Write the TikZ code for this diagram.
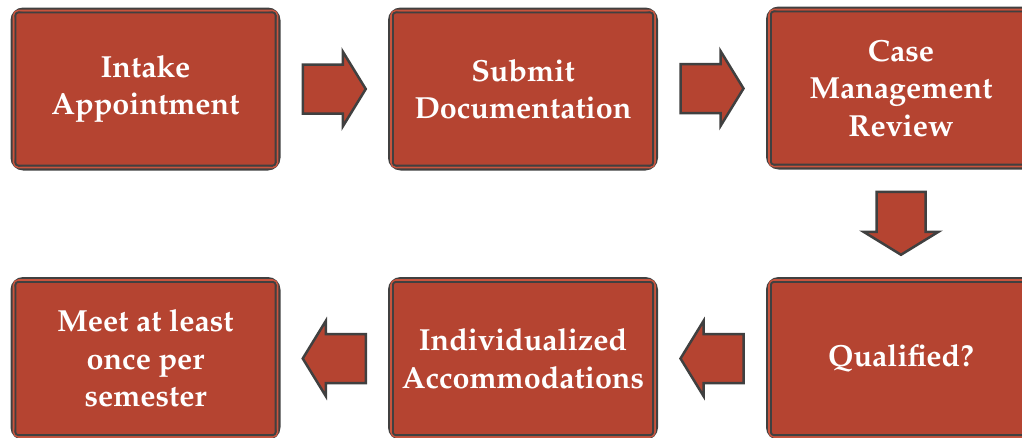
\documentclass[tikz,border=0pt]{standalone}
\usepackage[T1]{fontenc}
\usepackage{mathpazo}
\usetikzlibrary{calc}
\definecolor{brick}{RGB}{181,68,49}
\definecolor{edge}{RGB}{64,64,64}
\definecolor{gapred}{RGB}{200,84,62}
\tikzset{
  stepbox/.style={draw=edge, line width=3.4pt, fill=brick, rounded corners=11pt,
    minimum width=266.6pt, minimum height=159.6pt,
    inner sep=0pt, align=center, text=white,
    font=\fontsize{30.5}{37.5}\selectfont\bfseries},
  gapline/.style={draw=gapred, line width=1.6pt, rounded corners=5pt},
  innerline/.style={draw=edge, line width=1.8pt, rounded corners=3pt},
  arrowstyle/.style={draw=edge, fill=brick, line width=2.5pt, line join=miter},
  blockarr/.pic={\draw[arrowstyle] (-31.5,-24.5) -- (8.5,-24.5) -- (8.5,-37.5) -- (31.5,0) -- (8.5,37.5) -- (8.5,24.5) -- (-31.5,24.5) -- cycle;}
}
\begin{document}
\begin{tikzpicture}[x=1pt,y=-1pt]
\useasboundingbox (0,0) rectangle (1022,437);
\clip (0,0) rectangle (1022,437);
\node[stepbox] (intake) at (145.5,89) {Intake\\Appointment};
\node[stepbox] (submit) at (523,89) {Submit\\Documentation};
\node[stepbox] (review) at (901,88) {Case\\Management\\Review};
\node[stepbox] (qual) at (901,358.5) {Qualified?};
\node[stepbox] (indiv) at (523,358.5) {Individualized\\Accommodations};
\node[stepbox] (meet) at (145.5,358.5) {Meet at least\\once per\\semester};
\foreach \n in {intake,submit,review,qual,indiv,meet}{
  \draw[gapline] ([xshift=3pt,yshift=-3pt]\n.north west) rectangle
    ([xshift=-3pt,yshift=3pt]\n.south east);
  \draw[innerline] ([xshift=4.9pt,yshift=-4.9pt]\n.north west) rectangle
    ([xshift=-4.9pt,yshift=4.9pt]\n.south east);}
\path ($(intake.east)!0.5!(submit.west)$) pic{blockarr};
\path ($(submit.east)!0.5!(review.west)$) pic{blockarr};
\path ($(review.south)!0.5!(qual.north)$) pic[rotate=-90]{blockarr};
\path ($(qual.west)!0.5!(indiv.east)$) pic[rotate=180]{blockarr};
\path ($(indiv.west)!0.5!(meet.east)$) pic[rotate=180]{blockarr};
\end{tikzpicture}
\end{document}
